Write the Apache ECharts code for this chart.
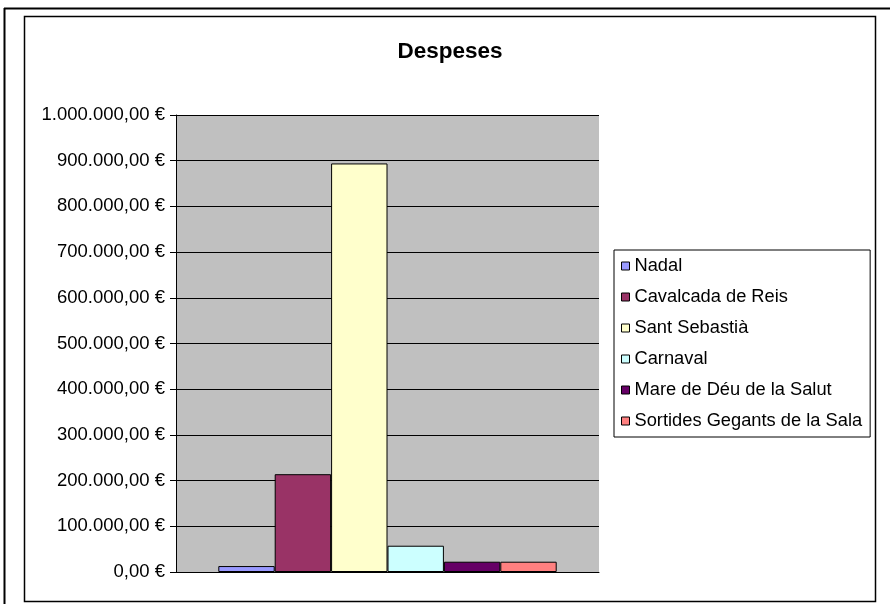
<!DOCTYPE html>
<html>
<head>
<meta charset="utf-8">
<script src="https://cdn.jsdelivr.net/npm/echarts@6/dist/echarts.min.js"></script>
<style>
html,body{margin:0;padding:0;background:#fff;}
#chart{width:890px;height:604px;}
</style>
</head>
<body>
<div id="chart"></div>
<script>
const categories = [''];
const seriesNames = ['Nadal', 'Cavalcada de Reis', 'Sant Sebastià', 'Carnaval', 'Mare de Déu de la Salut', 'Sortides Gegants de la Sala'];
const seriesValues = [13000, 214000, 894000, 57500, 22500, 22500];
const seriesColors = ['#9999FF', '#993366', '#FFFFCC', '#CCFFFF', '#660066', '#FF8080'];
const yTicks = [0, 100000, 200000, 300000, 400000, 500000, 600000, 700000, 800000, 900000, 1000000];

const FONT = "'Liberation Sans', Arial, sans-serif";

function fmtEuro(v) {
  const intPart = Math.round(v).toString().replace(/\B(?=(\d{3})+(?!\d))/g, '.');
  return intPart + ',00 €';
}

const chart = echarts.init(document.getElementById('chart'), null, {renderer: 'canvas'});

const series = seriesNames.map((name, i) => ({
  name: name,
  type: 'bar',
  data: [seriesValues[i]],
  barGap: '0%',
  barCategoryGap: '20%',
  itemStyle: {color: seriesColors[i], borderColor: '#000', borderWidth: 1},
  emphasis: {disabled: true},
  animation: false
}));

chart.setOption({
  animation: false,
  backgroundColor: '#fff',
  title: {
    text: 'Despeses',
    left: 450,
    top: 40,
    padding: 0,
    textAlign: 'center',
    textStyle: {fontFamily: FONT, fontWeight: 'bold', fontSize: 22.5, color: '#000'}
  },
  grid: {left: 176, top: 115, right: 291, bottom: 32, show: true, backgroundColor: '#C0C0C0', borderWidth: 0},
  legend: {
    orient: 'vertical',
    left: 614,
    top: 250,
    padding: [6, 8, 6, 7],
    itemWidth: 8,
    itemHeight: 8,
    itemGap: 11,
    icon: 'rect',
    borderColor: '#000',
    borderWidth: 1,
    backgroundColor: '#fff',
    itemStyle: {borderColor: '#000', borderWidth: 1},
    textStyle: {fontFamily: FONT, fontSize: 18.3, color: '#000', lineHeight: 20},
    data: seriesNames
  },
  xAxis: {
    type: 'category',
    data: categories,
    axisLine: {show: true, lineStyle: {color: '#000', width: 1}},
    axisTick: {show: false},
    axisLabel: {show: false},
    splitLine: {show: false}
  },
  yAxis: {
    type: 'value',
    min: yTicks[0],
    max: yTicks[yTicks.length - 1],
    interval: yTicks[1] - yTicks[0],
    axisLine: {show: true, lineStyle: {color: '#000', width: 1}},
    axisTick: {show: true, inside: false, length: 6, lineStyle: {color: '#000'}},
    axisLabel: {fontFamily: FONT, fontSize: 18.5, color: '#000', margin: 11, formatter: fmtEuro},
    splitLine: {show: true, lineStyle: {color: '#000', width: 1}}
  },
  series: series,
  graphic: [
    {type: 'line', shape: {x1: 4, y1: 8.5, x2: 890, y2: 8.5}, style: {stroke: '#000', lineWidth: 2}, silent: true},
    {type: 'line', shape: {x1: 4.5, y1: 8, x2: 4.5, y2: 604}, style: {stroke: '#000', lineWidth: 2}, silent: true},
    {type: 'rect', shape: {x: 24.5, y: 16.5, width: 851, height: 585}, style: {fill: 'none', stroke: '#000', lineWidth: 1.5}, silent: true}
  ]
});
</script>
</body>
</html>
